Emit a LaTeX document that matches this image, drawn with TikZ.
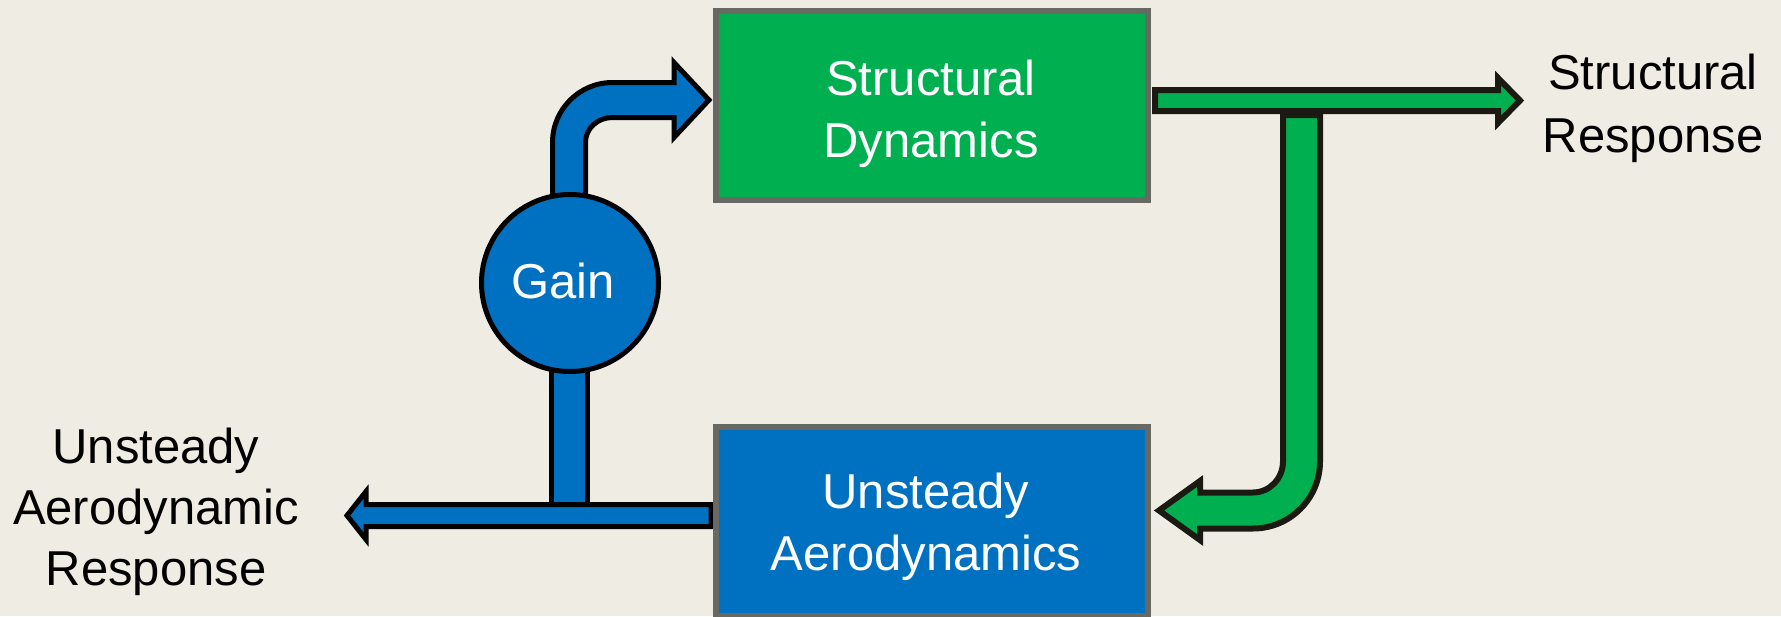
\documentclass[tikz,border=0pt]{standalone}
\usepackage{fontspec}
\setmainfont{Liberation Sans}
\definecolor{bg}{HTML}{EEECE3}
\definecolor{sgreen}{HTML}{00B050}
\definecolor{sblue}{HTML}{0070C0}
\definecolor{boxgray}{HTML}{696964}
\definecolor{darkedge}{HTML}{1A1A12}
\begin{document}
\begin{tikzpicture}[x=1pt,y=-1pt,
  block/.style={draw=boxgray, line width=6pt, line join=miter,
    minimum width=432pt, minimum height=189pt, inner sep=0pt},
  bluearrow/.style={fill=sblue, draw=black, line width=5pt, line join=miter, miter limit=10},
  greenarrow/.style={fill=sgreen, draw=darkedge, line width=6pt, line join=miter, miter limit=10},
  lbl/.style={font=\fontsize{49}{59}\selectfont, inner sep=0pt, anchor=base},
  wlbl/.style={lbl, text=white}]
\useasboundingbox[fill=bg] (0,0) rectangle (1781,616);

% output of the aerodynamics block
\draw[bluearrow] (711,504.5) -- (366,504.5) -- (366,491.5) -- (347,515.5)
  -- (366,539.5) -- (366,526.5) -- (711,526.5) -- cycle;

% blocks
\node[block, fill=sgreen] (sd) at (932,105.5) {};
\node[block, fill=sblue]  (ua) at (932,521.5) {};

% feedback through the gain
\draw[bluearrow] (551.5,330) rectangle (587.5,504.5);
\draw[bluearrow] (552.5,240) -- (552.5,142.5)
  .. controls (552.5,109.4) and (579.4,82.5) .. (612.5,82.5)
  -- (674,82.5) -- (674,62.5) -- (709,100) -- (674,137.5) -- (674,117.5)
  -- (612.5,117.5)
  .. controls (597.5,117.5) and (585.5,128.5) .. (585.5,142.5)
  -- (585.5,240) -- cycle;
\node[circle, fill=sblue, draw=black, line width=5pt, minimum size=177pt, inner sep=0pt]
  (gain) at (570,283) {};

% structural response and its return path
\draw[greenarrow] (1155,90) -- (1498,90) -- (1498,78) -- (1520,100.5)
  -- (1498,123) -- (1498,111) -- (1155,111) -- cycle;
\draw[greenarrow] (1283,115) -- (1320,115) -- (1320,461.5)
  .. controls (1320,498.5) and (1290,528.5) .. (1253,528.5)
  -- (1200,528.5) -- (1200,540) -- (1159,510.5) -- (1200,481) -- (1200,492.5)
  -- (1253,492.5)
  .. controls (1269.6,492.5) and (1283,478.5) .. (1283,461.5) -- cycle;

% texts
\node[wlbl] (sd1) at (931,95)  {Structural};
\node[wlbl] (sd2) at (931,157) {Dynamics};
\node[wlbl] (ua1) at (926,508) {Unsteady};
\node[wlbl] (ua2) at (926,570) {Aerodynamics};
\node[wlbl] (g1)  at (563,298) {Gain};
\node[lbl] (sr1) at (1653,89)  {Structural};
\node[lbl] (sr2) at (1653,152) {Response};
\node[lbl] (ar1) at (156,463) {Unsteady};
\node[lbl] (ar2) at (156,524) {Aerodynamic};
\node[lbl] (ar3) at (156,585) {Response};
\end{tikzpicture}
\end{document}
